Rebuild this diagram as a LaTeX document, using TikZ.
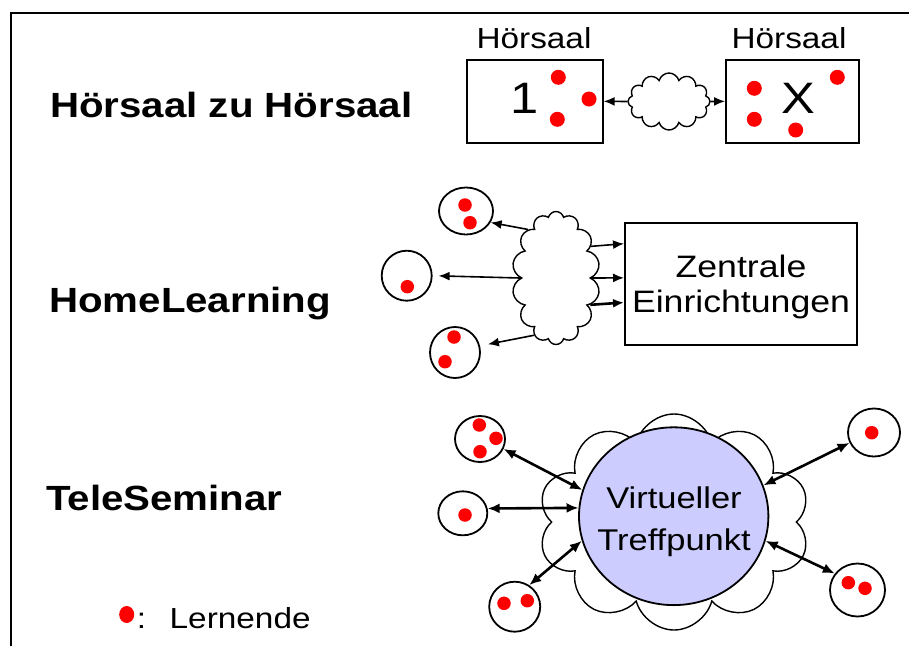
\documentclass[tikz,border=0pt]{standalone}
\usepackage{fontspec}
\setmainfont{Liberation Sans}[FakeStretch=1.15]
\usetikzlibrary{shapes.symbols,shapes.geometric,arrows.meta}
\definecolor{lav}{HTML}{CCCCFF}
\begin{document}
\begin{tikzpicture}[x=1pt,y=-1pt,
  lbl/.style={font=\bfseries\fontsize{35}{42}\selectfont, anchor=base west, inner sep=0pt},
  txt/.style={font=\fontsize{29}{35}\selectfont, inner sep=0pt},
  room/.style={draw, line width=2pt, minimum height=82.7pt, inner sep=0pt},
  grp/.style={draw, ellipse, line width=1.8pt, minimum width=50pt, minimum height=50pt, inner sep=0pt},
  dot/.style={circle, fill=red, minimum size=13.5pt, inner sep=0pt},
  bigdot/.style={circle, fill=red, minimum size=15pt, inner sep=0pt},
  cl/.style={cloud, draw, cloud ignores aspect, line width=1.4pt, inner sep=0pt},
  arr/.style={-{Latex[length=11pt,width=9pt]}, line width=1.6pt},
  darr/.style={{Latex[length=12pt,width=10pt]}-{Latex[length=12pt,width=10pt]}, line width=2.6pt}
]
\useasboundingbox (0,0) rectangle (909,646);
% frame
\draw[line width=2pt] (11,646) -- (11,13) -- (909,13);

% left labels
\node[lbl] (l1) at (50,117.3) {Hörsaal zu Hörsaal};
\node[lbl] (l2) at (49,312) {HomeLearning};
\node[lbl] (l3) at (46,510) {TeleSeminar};

% ---- Hörsaal zu Hörsaal
\node[txt, anchor=base] (hl1) at (534,48.3) {Hörsaal};
\node[txt, anchor=base] (hl2) at (789,48.3) {Hörsaal};
\node[room, minimum width=136pt] (r1) at (534.7,101.3) {};
\node[room, minimum width=133.3pt] (r2) at (792.7,101.3) {};
\node[font=\fontsize{44}{44}\selectfont, anchor=base, inner sep=0pt] (n1) at (525,113) {1};
\node[font=\fontsize{44}{44}\selectfont, anchor=base, inner sep=0pt] (nx) at (798,113) {X};
\node[bigdot] (p1) at (558.3,77.3) {};
\node[bigdot] (p2) at (589,99) {};
\node[bigdot] (p3) at (557.3,119.3) {};
\node[bigdot] (p4) at (754.3,88.3) {};
\node[bigdot] (p5) at (837.3,77.3) {};
\node[bigdot] (p6) at (754.3,119.3) {};
\node[bigdot] (p7) at (795.7,130) {};
\node[cl, cloud puffs=12, minimum width=82pt, minimum height=57pt] (c1) at (669,101.5) {};
\draw[arr] (c1.west) -- (r1.east);
\draw[arr] (c1.east) -- (r2.west);

% ---- HomeLearning
\node[grp, minimum width=54pt, minimum height=47pt] (h1) at (466,211) {};
\node[grp] (h2) at (406.7,275.7) {};
\node[grp, minimum height=51pt] (h3) at (455,352.5) {};
\node[dot] (q1) at (465,205) {};
\node[dot] (q2) at (470,222.7) {};
\node[dot] (q3) at (407.3,286.7) {};
\node[dot] (q4) at (454,337) {};
\node[dot] (q5) at (445,361.7) {};
\node[cl, cloud puffs=14, minimum width=88pt, minimum height=133pt] (mc) at (556,278) {};
\node[draw, line width=2pt, minimum width=232pt, minimum height=122pt] (zb) at (741,284) {};
\node[align=center, font=\fontsize{31}{35}\selectfont, inner sep=0pt] (zt) at (741,287) {Zentrale\\Einrichtungen};
\draw[arr] (mc.120) -- (h1.-25);
\draw[arr, shorten >=6pt] (mc.180) -- (h2.east);
\draw[arr, shorten >=8pt] (mc.249) -- (h3.15);
\draw[arr] (mc.42) -- (zb.161.9);
\draw[arr] (mc.0) -- (zb.177.5);
\draw[arr, line width=2.6pt] (mc.-38) -- (zb.189.3);

% ---- TeleSeminar
\node[cl, cloud puffs=10, cloud puff arc=150, fill=white, minimum width=272pt, minimum height=216pt] (bc) at (674,522) {};
\node[ellipse, draw, fill=lav, line width=1.8pt, minimum width=189.4pt, minimum height=177.8pt, inner sep=0pt] (V) at (673.7,516.2) {};
\node[align=center, font=\fontsize{30}{42}\selectfont, inner sep=0pt] (vt) at (674,521.4) {Virtueller\\Treffpunkt};
\node[grp, minimum height=46pt] (ga) at (480,439) {};
\node[grp, minimum width=49pt, minimum height=44pt] (gb) at (462.8,513.3) {};
\node[grp, minimum width=51pt] (gc) at (514.7,606.7) {};
\node[grp, minimum width=52pt, minimum height=48pt] (gd) at (874,432.5) {};
\node[grp, minimum width=55pt, minimum height=53pt] (ge) at (857.5,590) {};
\node[dot] (s1) at (479.3,425) {};
\node[dot] (s2) at (496,438.3) {};
\node[dot] (s3) at (480,451.7) {};
\node[dot] (s4) at (465,515) {};
\node[dot] (s5) at (504,603.3) {};
\node[dot] (s6) at (527.3,600.7) {};
\node[dot] (s7) at (871.7,432.7) {};
\node[dot] (s8) at (848.3,582.7) {};
\node[dot] (s9) at (865,588.3) {};
\draw[darr] (ga.-23) -- (V.164);
\draw[darr] (gb.11) -- (V.175);
\draw[darr] (gc.56) -- (V.195);
\draw[darr] (gd.203) -- (V.19);
\draw[darr] (ge.144) -- (V.-15);

% ---- legend
\node[ellipse, fill=red, minimum width=15pt, minimum height=17pt, inner sep=0pt] (ld) at (126.7,614.5) {};
\node[txt, anchor=base] (lc) at (141.5,628.3) {:};
\node[txt, anchor=base west] (lt) at (169.5,628.3) {Lernende};
\end{tikzpicture}
\end{document}
